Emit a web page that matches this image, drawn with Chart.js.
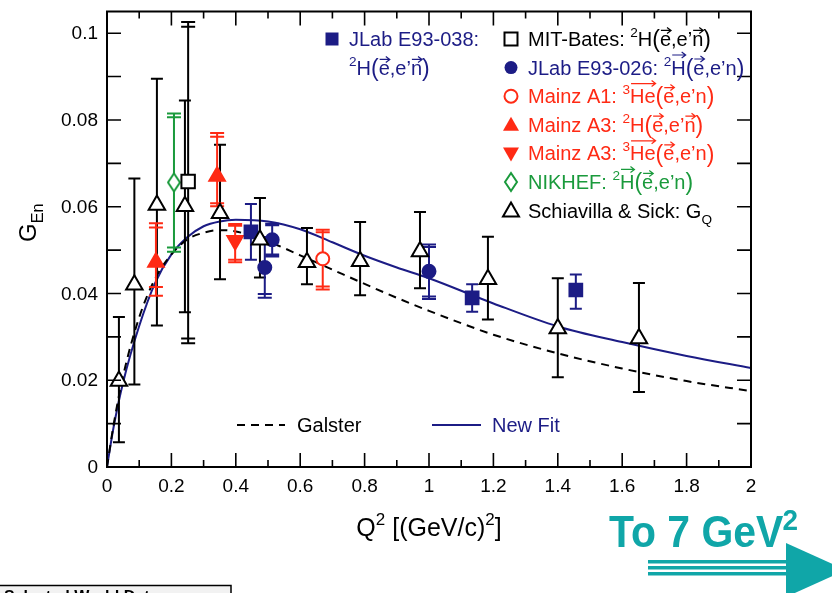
<!DOCTYPE html>
<html>
<head>
<meta charset="utf-8">
<script src="https://cdn.jsdelivr.net/npm/chart.js@4.4.1/dist/chart.umd.min.js"></script>
<style>
  html, body { margin: 0; padding: 0; background: #fff; overflow: hidden; }
  canvas { display: block; }
</style>
</head>
<body>
<canvas id="gen" width="832" height="593"></canvas>
<script>
// fit curves
const curveQ2 = [0, 0.02, 0.05, 0.1, 0.15, 0.2, 0.25, 0.3, 0.35, 0.4, 0.5, 0.6, 0.7, 0.8, 0.9, 1.0, 1.2, 1.4, 1.6, 1.8, 2.0];
const galster = [0, 0.0095, 0.021, 0.0345, 0.0435, 0.049, 0.0525, 0.054, 0.0546, 0.0543, 0.052, 0.0488, 0.0455, 0.0422, 0.039, 0.036, 0.0305, 0.0262, 0.0227, 0.0198, 0.0175];
const newFit  = [0, 0.009, 0.0195, 0.0325, 0.0425, 0.049, 0.053, 0.0555, 0.0566, 0.057, 0.0566, 0.0548, 0.0518, 0.0487, 0.046, 0.0435, 0.0377, 0.0324, 0.0288, 0.0256, 0.0228];

// Schiavilla & Sick: G_Q
const ssQ2 = [0.037, 0.085, 0.155, 0.242, 0.351, 0.475, 0.621, 0.786, 0.972, 1.183, 1.40, 1.652];
const ssG  = [0.0198, 0.042, 0.0604, 0.0601, 0.0585, 0.0524, 0.0472, 0.0474, 0.0497, 0.0433, 0.0319, 0.0296];
const ssLo = [0.0057, 0.019, 0.0326, 0.0357, 0.0433, 0.0437, 0.0421, 0.0396, 0.0412, 0.034, 0.0207, 0.0173];
const ssHi = [0.0346, 0.0665, 0.0895, 0.0845, 0.0743, 0.062, 0.0551, 0.0565, 0.0588, 0.0531, 0.0435, 0.0424];

// JLab E93-038
const e038Q2 = [0.447, 1.134, 1.456];
const e038G  = [0.0542, 0.039, 0.0408];
const e038Lo = [0.0478, 0.0358, 0.0365];
const e038Hi = [0.0606, 0.0421, 0.0444];

// JLab E93-026 (total and stat ends)
const e026Q2 = [0.49, 0.513, 1.0];
const e026G  = [0.046, 0.0524, 0.0451];
const e026Lo = [0.039, 0.0485, 0.0387];
const e026Hi = [0.053, 0.0561, 0.0513];
const e026StLo = [0.0399, 0.049, 0.0393];
const e026StHi = [0.052, 0.0557, 0.0507];

// MIT-Bates
const mitQ2 = [0.252];
const mitG  = [0.0658];
const mitLo = [0.0285];
const mitHi = [0.1026];
const mitStLo = [0.0296];
const mitStHi = [0.1015];

// Mainz A1 3He
const a1Q2 = [0.67];
const a1G  = [0.048];
const a1Lo = [0.0409];
const a1Hi = [0.0547];
const a1StLo = [0.0416];
const a1StHi = [0.0541];

// Mainz A3 2H
const a3dQ2 = [0.152, 0.342];
const a3dG  = [0.0472, 0.067];
const a3dLo = [0.0395, 0.0601];
const a3dHi = [0.0562, 0.077];
const a3dStLo = [0.0415, 0.0608];
const a3dStHi = [0.0552, 0.0761];

// Mainz A3 3He
const a3hQ2 = [0.398];
const a3hG  = [0.0522];
const a3hLo = [0.0472];
const a3hHi = [0.056];
const a3hStLo = [0.0478];
const a3hStHi = [0.0556];

// NIKHEF
const nikQ2 = [0.208];
const nikG  = [0.0656];
const nikLo = [0.0496];
const nikHi = [0.0815];
const nikStLo = [0.0506];
const nikStHi = [0.0806];

const xTicks = [0, 0.2, 0.4, 0.6, 0.8, 1, 1.2, 1.4, 1.6, 1.8, 2];
const xTickLabels = ['0', '0.2', '0.4', '0.6', '0.8', '1', '1.2', '1.4', '1.6', '1.8', '2'];
const yTicks = [0, 0.02, 0.04, 0.06, 0.08, 0.1];
const yTickLabels = ['0', '0.02', '0.04', '0.06', '0.08', '0.1'];

const NAVY = '#1c1c85';
const RED = '#ff2a14';
const GREEN = '#1a9a3c';
const TEAL = '#10a6a8';
const FONT = '"Liberation Sans", Arial, Helvetica, sans-serif';

const pts = (xs, ys) => xs.map((x, i) => ({ x: x, y: ys[i] }));

function diamondImg(color) {
  const c = document.createElement('canvas');
  c.width = 14; c.height = 20;
  const g = c.getContext('2d');
  g.strokeStyle = color; g.lineWidth = 2; g.fillStyle = '#fff';
  g.beginPath();
  g.moveTo(7, 1); g.lineTo(13, 10); g.lineTo(7, 19); g.lineTo(1, 10); g.closePath();
  g.fill(); g.stroke();
  return c;
}
const nikImg = diamondImg(GREEN);

// error bars for every marker set
const errSets = [
  { q: ssQ2, lo: ssLo, hi: ssHi, color: '#000', cap: 6 },
  { q: e038Q2, lo: e038Lo, hi: e038Hi, color: NAVY, cap: 6 },
  { q: e026Q2, lo: e026Lo, hi: e026Hi, stLo: e026StLo, stHi: e026StHi, color: NAVY, cap: 7 },
  { q: mitQ2, lo: mitLo, hi: mitHi, stLo: mitStLo, stHi: mitStHi, color: '#000', cap: 7 },
  { q: a1Q2, lo: a1Lo, hi: a1Hi, stLo: a1StLo, stHi: a1StHi, color: RED, cap: 7 },
  { q: a3dQ2, lo: a3dLo, hi: a3dHi, stLo: a3dStLo, stHi: a3dStHi, color: RED, cap: 7 },
  { q: a3hQ2, lo: a3hLo, hi: a3hHi, stLo: a3hStLo, stHi: a3hStHi, color: RED, cap: 7 },
  { q: nikQ2, lo: nikLo, hi: nikHi, stLo: nikStLo, stHi: nikStHi, color: GREEN, cap: 7 }
];

// text with superscripts, subscripts and vector arrows
function rich(ctx, x, y, parts, size, color) {
  ctx.fillStyle = color; ctx.strokeStyle = color;
  ctx.textAlign = 'left'; ctx.textBaseline = 'alphabetic';
  let cx = x;
  for (const [t, k] of parts) {
    let fs = size, dy = 0;
    if (k === 'sup') { fs = size * 0.68; dy = -size * 0.45; }
    if (k === 'sub') { fs = size * 0.68; dy = size * 0.3; }
    if (k === 'paren') { fs = size * 1.15; dy = size * 0.06; }
    ctx.font = fs + 'px ' + FONT;
    ctx.fillText(t, cx, y + dy);
    const w = ctx.measureText(t).width;
    if (k === 'vec' || k === 'vecU') {
      const ay = y - (k === 'vec' ? size * 0.78 : size * 0.98);
      ctx.lineWidth = 1.2;
      ctx.beginPath();
      ctx.moveTo(cx + 1, ay); ctx.lineTo(cx + w, ay);
      ctx.moveTo(cx + w - 4, ay - 3); ctx.lineTo(cx + w, ay); ctx.lineTo(cx + w - 4, ay + 3);
      ctx.stroke();
    }
    cx += w;
  }
  return cx - x;
}

function marker(ctx, kind, x, y, color) {
  ctx.save();
  ctx.lineWidth = 2;
  ctx.strokeStyle = color; ctx.fillStyle = color;
  ctx.beginPath();
  if (kind === 'square' || kind === 'osquare') {
    ctx.rect(x - 6.5, y - 6.5, 13, 13);
  } else if (kind === 'circle' || kind === 'ocircle') {
    ctx.arc(x, y, 6.5, 0, Math.PI * 2);
  } else if (kind === 'tri' || kind === 'otri') {
    ctx.moveTo(x, y - 8); ctx.lineTo(x + 8, y + 6); ctx.lineTo(x - 8, y + 6); ctx.closePath();
  } else if (kind === 'dtri') {
    ctx.moveTo(x, y + 8); ctx.lineTo(x + 8, y - 6); ctx.lineTo(x - 8, y - 6); ctx.closePath();
  } else if (kind === 'diamond') {
    ctx.moveTo(x, y - 9); ctx.lineTo(x + 6, y); ctx.lineTo(x, y + 9); ctx.lineTo(x - 6, y); ctx.closePath();
  }
  if (kind.charAt(0) === 'o' || kind === 'diamond') {
    ctx.fillStyle = '#fff'; ctx.fill(); ctx.stroke();
  } else {
    ctx.fill();
  }
  ctx.restore();
}

const legendRows = [
  { kind: 'osquare', color: '#000', parts: [['MIT-Bates: ', ''], ['2', 'sup'], ['H', ''], ['(', 'paren'], ['e', 'vec'], [',e\u2019', ''], ['n', 'vec'], [')', 'paren']] },
  { kind: 'circle', color: NAVY, parts: [['JLab E93-026: ', ''], ['2', 'sup'], ['H', 'vecU'], ['(', 'paren'], ['e', 'vec'], [',e\u2019n', ''], [')', 'paren']] },
  { kind: 'ocircle', color: RED, parts: [['Mainz A1: ', ''], ['3', 'sup'], ['He', 'vecU'], ['(', 'paren'], ['e', 'vec'], [',e\u2019n', ''], [')', 'paren']] },
  { kind: 'tri', color: RED, parts: [['Mainz A3: ', ''], ['2', 'sup'], ['H', ''], ['(', 'paren'], ['e', 'vec'], [',e\u2019', ''], ['n', 'vec'], [')', 'paren']] },
  { kind: 'dtri', color: RED, parts: [['Mainz A3: ', ''], ['3', 'sup'], ['He', 'vecU'], ['(', 'paren'], ['e', 'vec'], [',e\u2019n', ''], [')', 'paren']] },
  { kind: 'diamond', color: GREEN, parts: [['NIKHEF: ', ''], ['2', 'sup'], ['H', 'vecU'], ['(', 'paren'], ['e', 'vec'], [',e\u2019n', ''], [')', 'paren']] },
  { kind: 'otri', color: '#000', parts: [['Schiavilla & Sick: G', ''], ['Q', 'sub']] }
];

const decor = {
  id: 'decor',
  beforeDraw(chart) { chart.$errDone = false; },
  beforeDatasetDraw(chart, args) {
    if (chart.$errDone || !args.meta.$marker) return;
    chart.$errDone = true;
    const ctx = chart.ctx, xs = chart.scales.x, ys = chart.scales.y;
    ctx.save();
    ctx.lineWidth = 2;
    for (const s of errSets) {
      ctx.strokeStyle = s.color;
      s.q.forEach((q, i) => {
        const px = xs.getPixelForValue(q);
        const yl = ys.getPixelForValue(s.lo[i]), yh = ys.getPixelForValue(s.hi[i]);
        ctx.beginPath();
        ctx.moveTo(px, yl); ctx.lineTo(px, yh);
        ctx.moveTo(px - s.cap, yl); ctx.lineTo(px + s.cap, yl);
        ctx.moveTo(px - s.cap, yh); ctx.lineTo(px + s.cap, yh);
        if (s.stLo) {
          const sl = ys.getPixelForValue(s.stLo[i]), sh = ys.getPixelForValue(s.stHi[i]);
          ctx.moveTo(px - s.cap, sl); ctx.lineTo(px + s.cap, sl);
          ctx.moveTo(px - s.cap, sh); ctx.lineTo(px + s.cap, sh);
        }
        ctx.stroke();
      });
    }
    ctx.restore();
  },
  afterDraw(chart) {
    const ctx = chart.ctx, xs = chart.scales.x, ys = chart.scales.y;
    const a = chart.chartArea;
    ctx.save();
    // frame and inward ticks
    ctx.strokeStyle = '#000';
    ctx.lineWidth = 2;
    ctx.strokeRect(a.left, a.top, a.right - a.left, a.bottom - a.top);
    ctx.lineWidth = 1.6;
    ctx.beginPath();
    for (let i = 1; i < 20; i++) {
      const px = xs.getPixelForValue(i / 10);
      const len = i % 2 === 0 ? 14 : 7;
      ctx.moveTo(px, a.bottom); ctx.lineTo(px, a.bottom - len);
      ctx.moveTo(px, a.top); ctx.lineTo(px, a.top + len);
    }
    for (let i = 1; i <= 10; i++) {
      const py = ys.getPixelForValue(i / 100);
      ctx.moveTo(a.left, py); ctx.lineTo(a.left + 14, py);
      ctx.moveTo(a.right, py); ctx.lineTo(a.right - 14, py);
    }
    ctx.stroke();

    // tick labels
    ctx.fillStyle = '#000';
    ctx.font = '19px ' + FONT;
    ctx.textAlign = 'center'; ctx.textBaseline = 'alphabetic';
    xTicks.forEach((v, i) => ctx.fillText(xTickLabels[i], xs.getPixelForValue(v), 492));
    ctx.textAlign = 'right'; ctx.textBaseline = 'middle';
    yTicks.forEach((v, i) => ctx.fillText(yTickLabels[i], 98, ys.getPixelForValue(v) + 1));

    // axis titles
    const q = [['Q', ''], ['2', 'sup'], [' [(GeV/c)', ''], ['2', 'sup'], [']', '']];
    ctx.save();
    ctx.globalAlpha = 0;
    const qw = rich(ctx, 0, 0, q, 25, '#000');
    ctx.restore();
    rich(ctx, (a.left + a.right) / 2 - qw / 2, 536, q, 25, '#000');

    ctx.save();
    ctx.translate(36, 242);
    ctx.rotate(-Math.PI / 2);
    rich(ctx, 0, 0, [['G', ''], ['En', 'sub']], 24, '#000');
    ctx.restore();

    // legend, left block
    marker(ctx, 'square', 332, 39, NAVY);
    rich(ctx, 349, 46, [['JLab E93-038:', '']], 20, NAVY);
    rich(ctx, 349, 75, [['2', 'sup'], ['H', ''], ['(', 'paren'], ['e', 'vec'], [',e\u2019', ''], ['n', 'vec'], [')', 'paren']], 20, NAVY);

    // legend, right column
    legendRows.forEach((r, i) => {
      const y = 39 + i * 28.6;
      marker(ctx, r.kind, 511, y, r.color);
      rich(ctx, 528, y + 7, r.parts, 20, r.color);
    });

    // curve legend
    ctx.lineWidth = 2;
    ctx.strokeStyle = '#000';
    ctx.setLineDash([8, 6]);
    ctx.beginPath(); ctx.moveTo(237, 425); ctx.lineTo(285, 425); ctx.stroke();
    ctx.setLineDash([]);
    ctx.strokeStyle = NAVY;
    ctx.beginPath(); ctx.moveTo(432, 425); ctx.lineTo(481, 425); ctx.stroke();
    rich(ctx, 297, 432, [['Galster', '']], 20, '#000');
    rich(ctx, 492, 432, [['New Fit', '']], 20, NAVY);

    // "To 7 GeV2" arrow
    ctx.save();
    ctx.fillStyle = TEAL;
    ctx.translate(609, 547);
    ctx.scale(0.93, 1);
    ctx.font = 'bold 44px ' + FONT;
    ctx.textAlign = 'left'; ctx.textBaseline = 'alphabetic';
    ctx.fillText('To 7 GeV', 0, 0);
    const tw = ctx.measureText('To 7 GeV').width;
    ctx.font = 'bold 30px ' + FONT;
    ctx.fillText('2', tw - 1, -17);
    ctx.restore();
    ctx.fillStyle = TEAL;
    ctx.fillRect(648, 560, 150, 3.5);
    ctx.fillRect(648, 566, 150, 3.5);
    ctx.fillRect(648, 572, 150, 3.5);
    ctx.beginPath();
    ctx.moveTo(786, 543); ctx.lineTo(846, 570); ctx.lineTo(786, 597); ctx.closePath();
    ctx.fill();

    // "Selected World Data" box, cut by the bottom edge
    ctx.fillStyle = '#f2f2f2';
    ctx.fillRect(0, 585, 231, 12);
    ctx.strokeStyle = '#000'; ctx.lineWidth = 1.5;
    ctx.strokeRect(-1, 585.5, 232, 14);
    ctx.fillStyle = '#000';
    ctx.font = 'bold 16px ' + FONT;
    ctx.textAlign = 'left';
    ctx.textBaseline = 'alphabetic';
    ctx.fillText('Selected World Data', 4, 602);
    ctx.restore();
  }
};

const markerDs = (label, xs, ys, style, color, fill, radius, extra) => Object.assign({
  label: label,
  data: pts(xs, ys),
  showLine: false,
  pointStyle: style,
  pointRadius: radius,
  pointBorderColor: color,
  pointBackgroundColor: fill,
  pointBorderWidth: 2,
  order: 0,
  $marker: true
}, extra || {});

const chart = new Chart(document.getElementById('gen'), {
  type: 'scatter',
  data: {
    datasets: [
      markerDs('Schiavilla & Sick', ssQ2, ssG, 'triangle', '#000', '#fff', 9.5),
      markerDs('JLab E93-038', e038Q2, e038G, 'rect', NAVY, NAVY, 9),
      markerDs('JLab E93-026', e026Q2, e026G, 'circle', NAVY, NAVY, 6.5),
      markerDs('MIT-Bates', mitQ2, mitG, 'rect', '#000', '#fff', 9.5),
      markerDs('Mainz A1', a1Q2, a1G, 'circle', RED, '#fff', 6.5),
      markerDs('Mainz A3 2H', a3dQ2, a3dG, 'triangle', RED, RED, 9),
      markerDs('Mainz A3 3He', a3hQ2, a3hG, 'triangle', RED, RED, 9, { pointRotation: 180 }),
      markerDs('NIKHEF', nikQ2, nikG, nikImg, GREEN, '#fff', 8),
      {
        label: 'Galster', type: 'line', data: pts(curveQ2, galster),
        borderColor: '#000', borderWidth: 2, borderDash: [8, 6], pointRadius: 0,
        cubicInterpolationMode: 'monotone', fill: false, order: 10
      },
      {
        label: 'New Fit', type: 'line', data: pts(curveQ2, newFit),
        borderColor: NAVY, borderWidth: 2, pointRadius: 0,
        cubicInterpolationMode: 'monotone', fill: false, order: 10
      }
    ]
  },
  options: {
    responsive: false,
    animation: false,
    events: [],
    layout: { padding: { left: 107, right: 81, top: 7, bottom: 126 } },
    scales: {
      x: { type: 'linear', min: 0, max: 2, display: false },
      y: { type: 'linear', min: 0, max: 0.105, display: false }
    },
    plugins: { legend: { display: false }, tooltip: { enabled: false } }
  },
  plugins: [decor]
});

// mark the marker datasets so error bars go under them
chart.data.datasets.forEach((d, i) => { chart.getDatasetMeta(i).$marker = !!d.$marker; });
chart.update();
</script>
</body>
</html>
